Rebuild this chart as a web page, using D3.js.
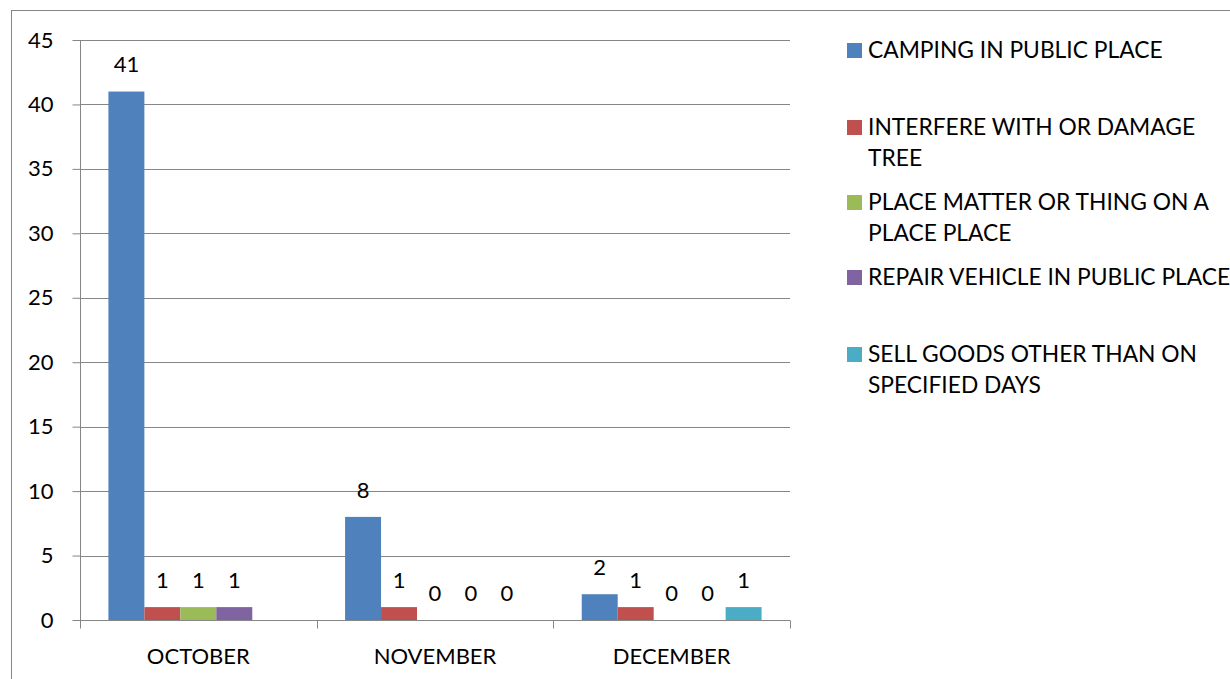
<!DOCTYPE html>
<html>
<head>
<meta charset="utf-8">
<script src="https://cdn.jsdelivr.net/npm/d3@7"></script>
<style>
  body { margin: 0; background: #fff; }
  svg { display: block; font-family: Lato, "Open Sans", sans-serif; }
</style>
</head>
<body>
<svg id="chart" width="1230" height="679"></svg>
<script>
const months = ["OCTOBER", "NOVEMBER", "DECEMBER"];
const seriesNames = [
  "CAMPING IN PUBLIC PLACE",
  "INTERFERE WITH OR DAMAGE TREE",
  "PLACE MATTER OR THING ON A PLACE PLACE",
  "REPAIR VEHICLE IN PUBLIC PLACE",
  "SELL GOODS OTHER THAN ON SPECIFIED DAYS"
];
// legend lines as wrapped in the original
const legendLines = [
  ["CAMPING IN PUBLIC PLACE"],
  ["INTERFERE WITH OR DAMAGE", "TREE"],
  ["PLACE MATTER OR THING ON A", "PLACE PLACE"],
  ["REPAIR VEHICLE IN PUBLIC PLACE"],
  ["SELL GOODS OTHER THAN ON", "SPECIFIED DAYS"]
];
const camping = [41, 8, 2];
const tree = [1, 1, 1];
const placeMatter = [1, 0, 0];
const repairVehicle = [1, 0, 0];
const sellGoods = [null, 0, 1];
const colors = ["#4F81BD", "#C0504D", "#9BBB59", "#8064A2", "#4BACC6"];
const yTicks = [0, 5, 10, 15, 20, 25, 30, 35, 40, 45];

const allSeries = [camping, tree, placeMatter, repairVehicle, sellGoods];
const fontSize = 22;

const svg = d3.select("#chart");

// outer chart border
svg.append("rect")
  .attr("x", 11.5).attr("y", 10.5)
  .attr("width", 1240).attr("height", 700)
  .attr("fill", "none").attr("stroke", "#868686").attr("stroke-width", 1);

const plotLeft = 80, plotRight = 790, plotTop = 40, plotBottom = 620;

const x0 = d3.scaleBand().domain(months).range([plotLeft, plotRight]);
const x1 = d3.scaleBand().domain(d3.range(seriesNames.length))
  .range([0, x0.bandwidth()]).paddingOuter(0.79).paddingInner(0);
const y = d3.scaleLinear().domain([0, 45]).range([plotBottom, plotTop]);

const grid = svg.append("g");
grid.selectAll("line")
  .data(yTicks.filter(d => d > 0))
  .enter().append("line")
  .attr("x1", plotLeft).attr("x2", plotRight)
  .attr("y1", d => Math.round(y(d)) + 0.5).attr("y2", d => Math.round(y(d)) + 0.5)
  .attr("stroke", "#868686").attr("stroke-width", 1);

// y axis
const yAxis = svg.append("g")
  .attr("transform", `translate(${plotLeft + 0.5},0)`)
  .call(d3.axisLeft(y).tickValues(yTicks).tickSize(8).tickPadding(19));
yAxis.select(".domain").attr("stroke", "#868686").attr("d", `M0,${plotTop}V${plotBottom}`);
yAxis.selectAll(".tick line").attr("stroke", "#868686");
yAxis.selectAll(".tick text").attr("font-size", fontSize).attr("font-family", "Lato").attr("fill", "#000");

// bars
const groups = svg.append("g").selectAll("g")
  .data(months)
  .enter().append("g")
  .attr("transform", d => `translate(${x0(d)},0)`);

groups.selectAll("rect")
  .data((m, mi) => allSeries.map((s, si) => ({ si, v: s[mi] })).filter(d => d.v !== null))
  .enter().append("rect")
  .attr("x", d => x1(d.si))
  .attr("width", x1.bandwidth())
  .attr("y", d => y(d.v))
  .attr("height", d => y(0) - y(d.v))
  .attr("fill", d => colors[d.si]);

groups.selectAll("text")
  .data((m, mi) => allSeries.map((s, si) => ({ si, v: s[mi] })).filter(d => d.v !== null))
  .enter().append("text")
  .attr("x", d => x1(d.si) + x1.bandwidth() / 2)
  .attr("y", d => y(d.v) - 27)
  .attr("dy", "0.35em")
  .attr("text-anchor", "middle")
  .attr("font-size", fontSize)
  .text(d => d.v);

// x axis
const xAxisLine = svg.append("g").attr("transform", `translate(0,${plotBottom + 0.5})`);
xAxisLine.append("line").attr("x1", plotLeft).attr("x2", plotRight).attr("stroke", "#868686");
xAxisLine.selectAll(".tk")
  .data([...months.map(m => x0(m)), plotRight])
  .enter().append("line")
  .attr("x1", d => Math.round(d) + 0.5).attr("x2", d => Math.round(d) + 0.5)
  .attr("y1", 0).attr("y2", 8)
  .attr("stroke", "#868686");
xAxisLine.selectAll("text")
  .data(months)
  .enter().append("text")
  .attr("x", d => x0(d) + x0.bandwidth() / 2)
  .attr("y", 36)
  .attr("dy", "0.35em")
  .attr("text-anchor", "middle")
  .attr("font-size", fontSize)
  .text(d => d);

// legend
const legendY = [50, 127, 202, 277, 354];
const legend = svg.append("g").selectAll("g")
  .data(legendLines)
  .enter().append("g")
  .attr("transform", (d, i) => `translate(847,${legendY[i]})`);
legend.append("rect")
  .attr("x", 0).attr("y", -7).attr("width", 15).attr("height", 15)
  .attr("fill", (d, i) => colors[i]);
legend.append("text")
  .attr("x", 21)
  .attr("font-size", 22.8)
  .selectAll("tspan")
  .data(d => d)
  .enter().append("tspan")
  .attr("x", 21)
  .attr("y", (d, i) => i * 31.5)
  .attr("dy", "0.35em")
  .text(d => d);
</script>
</body>
</html>
